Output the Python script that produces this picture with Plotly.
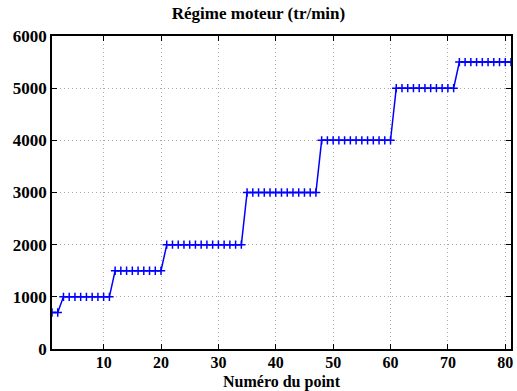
import plotly.graph_objects as go

# Data: engine speed per point
levels = [700, 1000, 1500, 2000, 3000, 4000, 5000, 5500]
counts = [2, 9, 9, 14, 13, 13, 11, 10]
regime = []
for lv, c in zip(levels, counts):
    regime += [lv] * c
points = list(range(1, len(regime) + 1))

xticks = [10, 20, 30, 40, 50, 60, 70, 80]
yticks = [0, 1000, 2000, 3000, 4000, 5000, 6000]

FAM = "Liberation Serif"
font = dict(family=FAM, size=17, color="black")

fig = go.Figure()
fig.add_trace(go.Scatter(
    x=points, y=regime, mode="lines+markers",
    line=dict(color="#0000ff", width=1.5),
    marker=dict(symbol="cross-thin", size=6, line=dict(color="#0000ff", width=1.5)),
    showlegend=False,
))

axis_common = dict(
    showgrid=True, gridcolor="#aaaaaa", griddash="1px,3px", gridwidth=1,
    showline=True, linecolor="black", linewidth=1.5, mirror="ticks",
    ticks="inside", ticklen=5, tickcolor="black", tickwidth=1,
    zeroline=False,
)

fig.update_layout(
    width=517, height=391,
    margin=dict(l=52, r=4, t=36, b=42),
    paper_bgcolor="white", plot_bgcolor="white",
    font=font,
    title=dict(text="<b>Régime moteur (tr/min)</b>", x=0.5, xanchor="center",
               y=0.967, yanchor="middle", font=dict(family=FAM, size=17)),
    xaxis=dict(range=[1, 81], tickvals=xticks,
               ticktext=[f"<b>{t}</b>" for t in xticks],
               tickfont=dict(family=FAM, size=16, color="black"),
               ticklabelstandoff=-2,
               **axis_common),
    yaxis=dict(range=[0, 6000], tickvals=yticks,
               ticktext=[f"<b>{t}</b>" for t in yticks],
               tickfont=dict(family=FAM, size=17, color="black"),
               **axis_common),
    annotations=[dict(text="<b>Numéro du point</b>", xref="paper", yref="paper",
                      x=0.5, y=-0.105, xanchor="center", yanchor="middle",
                      showarrow=False, font=dict(family=FAM, size=16, color="black"))],
)

fig.write_html(
    "out.html",
    config={"displayModeBar": False},
    post_script="document.body.style.margin='0';document.body.style.padding='0';",
)
